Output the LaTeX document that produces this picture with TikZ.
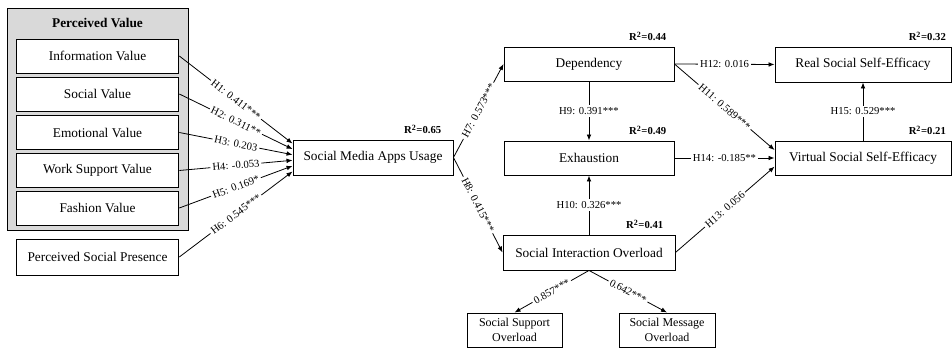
\documentclass[tikz,border=0pt]{standalone}
\usepackage{fontspec}
\setmainfont{Liberation Serif}
\usetikzlibrary{positioning, arrows.meta}

\begin{document}
\begin{tikzpicture}[x=0.75pt, y=-0.75pt, >={Latex[length=4.5pt,width=3.5pt]},
    box/.style={draw, rectangle, align=center, fill=white, line width=0.7pt, minimum height=25.5pt, inner sep=2pt},
    hlab/.style={font=\footnotesize, fill=white, inner sep=1.5pt},
    rsq/.style={font=\footnotesize\bfseries, anchor=south east, inner sep=1pt},
    link/.style={->, line width=0.6pt}]
    \useasboundingbox (0,0) rectangle (952,348);

    % Nodes for perceived value group
    \node[draw, fill=black!15, line width=0.7pt, minimum width=135.75pt, minimum height=166.5pt] (PV) at (97.5,119) {};
    \node[font=\bfseries] (PVt) at (97.5,23) {Perceived Value};
    \node[box, minimum width=122pt] (IV) at (97.5,56) {Information Value};
    \node[box, minimum width=122pt] (SV) at (97.5,94) {Social Value};
    \node[box, minimum width=122pt] (EV) at (97.5,132.5) {Emotional Value};
    \node[box, minimum width=122pt] (WSV) at (97.5,170.5) {Work Support Value};
    \node[box, minimum width=122pt] (FV) at (97.5,208) {Fashion Value};
    \node[box, minimum width=122pt, minimum height=27pt] (PSP) at (97.5,257) {Perceived Social Presence};

    % Nodes for usage and outcomes
    \node[box, minimum width=120pt, minimum height=26.25pt] (SMAU) at (373,157.5) {Social Media Apps Usage};
    \node[box, minimum width=127.5pt] (DEP) at (589,64) {Dependency};
    \node[box, minimum width=127.5pt] (EXH) at (589,158) {Exhaustion};
    \node[box, minimum width=129pt, minimum height=26.25pt] (SIO) at (589,252.5) {Social Interaction Overload};
    \node[box, minimum width=71.25pt, font=\small] (SSO) at (514.5,330) {Social Support\\ Overload};
    \node[box, minimum width=72pt, font=\small] (SMO) at (667,330) {Social Message\\ Overload};
    \node[box, minimum width=132pt, minimum height=26.25pt] (RSSE) at (863,64.5) {Real Social Self-Efficacy};
    \node[box, minimum width=132pt] (VSSE) at (863,158) {Virtual Social Self-Efficacy};

    % R-square values
    \node[rsq] (r1) at ([xshift=-8pt, yshift=3pt]SMAU.north east) {R\textsuperscript{2}=0.65};
    \node[rsq] (r2) at ([xshift=-5pt, yshift=3pt]DEP.north east) {R\textsuperscript{2}=0.44};
    \node[rsq] (r3) at ([xshift=-5pt, yshift=3pt]EXH.north east) {R\textsuperscript{2}=0.49};
    \node[rsq] (r4) at ([xshift=-8pt, yshift=3pt]SIO.north east) {R\textsuperscript{2}=0.41};
    \node[rsq] (r5) at ([xshift=-3pt, yshift=3pt]RSSE.north east) {R\textsuperscript{2}=0.32};
    \node[rsq] (r6) at ([xshift=-3pt, yshift=3pt]VSSE.north east) {R\textsuperscript{2}=0.21};

    % Arrows for antecedents of usage
    \foreach \src/\dy/\lab in {IV/10.5/{H1: 0.411***}, SV/6.3/{H2: 0.311**}, EV/2.1/{H3: 0.203},
        WSV/-2.1/{H4: -0.053}, FV/-6.3/{H5: 0.169*}, PSP/-10.5/{H6: 0.545***}}
        \draw[link] (\src.east) -- ([yshift=\dy pt]SMAU.west) node[hlab, midway, sloped] {\lab};

    % Arrows for the structural paths
    \draw[link] (SMAU.east) -- node[hlab, sloped] {H7: 0.573***} (DEP.west);
    \draw[link] (SMAU.east) -- node[hlab, sloped] {H8: 0.415***} (SIO.west);
    \draw[link] (DEP.south) -- node[hlab] {H9: 0.391***} (EXH.north);
    \draw[link] (SIO.north) -- node[hlab] {H10: 0.326***} (EXH.south);
    \draw[link] (DEP.east) -- node[hlab, sloped] {H11: 0.589***} ([yshift=6pt]VSSE.west);
    \draw[link] (DEP.east) -- node[hlab] {H12: 0.016} (RSSE.west);
    \draw[link] (SIO.east) -- node[hlab, sloped] {H13: 0.056} ([yshift=-6.5pt]VSSE.west);
    \draw[link] (EXH.east) -- node[hlab] {H14: -0.185**} (VSSE.west);
    \draw[link] (VSSE.north) -- node[hlab] {H15: 0.529***} (RSSE.south);
    \draw[link] (SIO.south) -- node[hlab, sloped] {0.857***} (SSO.north);
    \draw[link] (SIO.south) -- node[hlab, sloped] {0.642***} (SMO.north);
\end{tikzpicture}
\end{document}
